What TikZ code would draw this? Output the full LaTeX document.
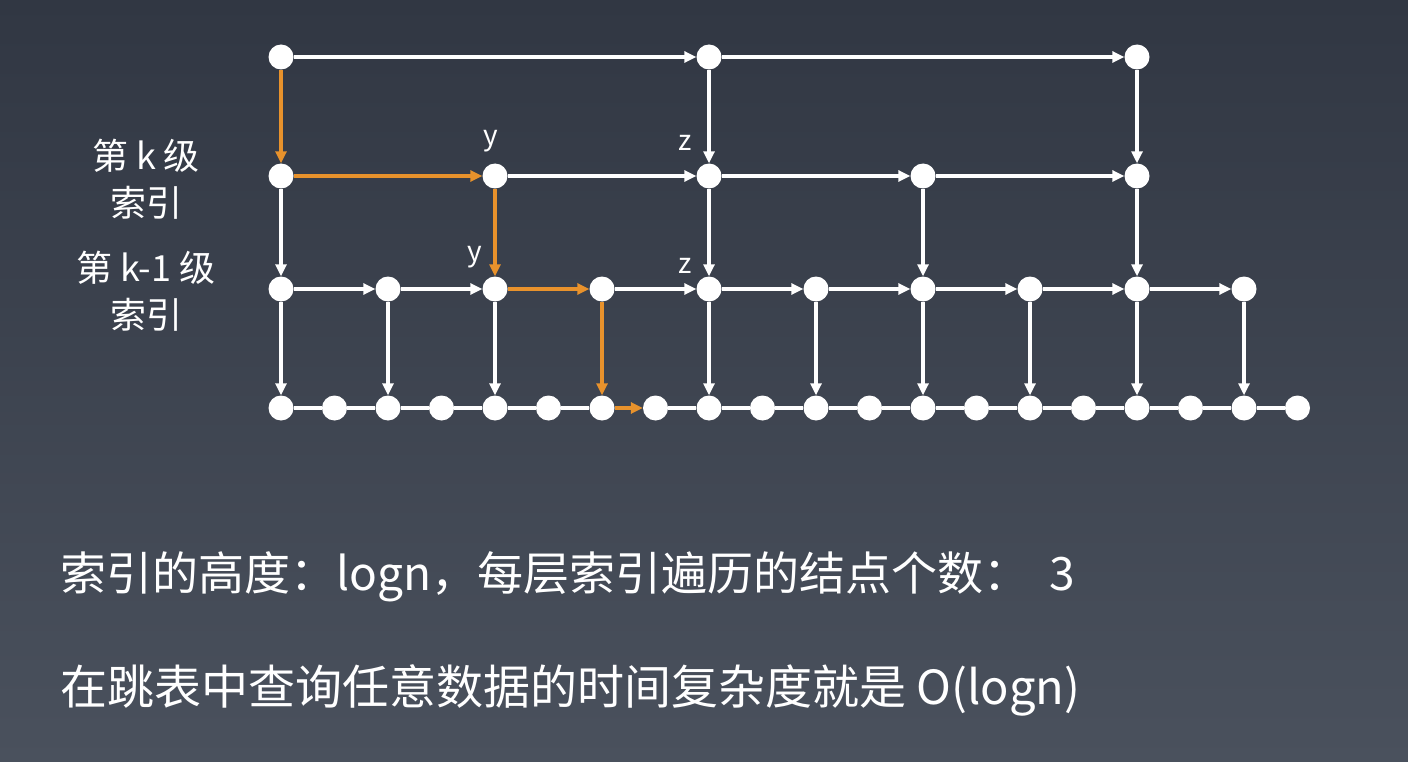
\documentclass[tikz,border=0pt]{standalone}
\usepackage{fontspec}
\setmainfont{Noto Sans CJK SC}
\usetikzlibrary{arrows.meta}
\definecolor{bgtop}{HTML}{313743}
\definecolor{bgbot}{HTML}{4A515D}
\definecolor{hl}{HTML}{E8922C}
\begin{document}
\begin{tikzpicture}[x=1pt,y=-1pt,
  dot/.style={circle,fill=white,minimum size=25pt,inner sep=0pt},
  warr/.style={draw=white,line width=3.5pt,-{Triangle[length=12pt,width=11pt]}},
  oarr/.style={draw=hl,line width=3.5pt,-{Triangle[length=12pt,width=11pt]}},
  wline/.style={draw=white,line width=3.5pt},
  lbl/.style={text=white,font=\fontsize{28}{32}\selectfont,inner sep=0pt},
  side/.style={text=white,align=center,font=\fontsize{36}{47}\selectfont,inner sep=0pt},
  body/.style={text=white,anchor=west,inner sep=0pt}]
\useasboundingbox (0,0) rectangle (1408,762);
\shade[top color=bgtop,bottom color=bgbot] (0,0) rectangle (1408,762);
% nodes
\foreach \i in {0,...,19} \node[dot] (b\i) at ({281+53.5*\i},408) {};
\foreach \i in {0,...,9} \node[dot] (a\i) at ({281+107*\i},289) {};
\foreach \i in {0,...,4} \node[dot] (c\i) at ({281+214*\i},176) {};
\foreach \i in {0,...,2} \node[dot] (t\i) at ({281+428*\i},57) {};
% bottom row
\foreach \i/\j in {0/1,1/2,2/3,3/4,4/5,5/6,7/8,8/9,9/10,10/11,11/12,12/13,13/14,14/15,15/16,16/17,17/18,18/19}
  \draw[wline] (b\i) -- (b\j);
\draw[oarr] (b6) -- (b7);
% level k-1
\foreach \i/\j in {0/1,1/2,3/4,4/5,5/6,6/7,7/8,8/9}
  \draw[warr] (a\i) -- (a\j);
\draw[oarr] (a2) -- (a3);
% level k
\foreach \i/\j in {1/2,2/3,3/4}
  \draw[warr] (c\i) -- (c\j);
\draw[oarr] (c0) -- (c1);
% top
\draw[warr] (t0) -- (t1);
\draw[warr] (t1) -- (t2);
% verticals
\draw[oarr] (t0) -- (c0);
\draw[warr] (t1) -- (c2);
\draw[warr] (t2) -- (c4);
\draw[warr] (c0) -- (a0);
\draw[oarr] (c1) -- (a2);
\draw[warr] (c2) -- (a4);
\draw[warr] (c3) -- (a6);
\draw[warr] (c4) -- (a8);
\foreach \j/\k in {0/0,1/2,2/4,4/8,5/10,6/12,7/14,8/16,9/18}
  \draw[warr] (a\j) -- (b\k);
\draw[oarr] (a3) -- (b6);
% letters
\node[lbl] (y1) at (491,141) {y};
\node[lbl] (z1) at (685,143) {z};
\node[lbl] (y2) at (475,257) {y};
\node[lbl] (z2) at (685,266) {z};
% side labels
\node[side] (lk) at (146,179) {第 k 级\\索引};
\node[side] (lk1) at (146,291) {第 k-1 级\\索引};
% bottom text
\node[body,font=\fontsize{46}{54}\selectfont] (t1line) at (60,577) {索引的高度：logn，每层索引遍历的结点个数：\hspace{20pt}3};
\node[body,font=\fontsize{47}{58}\selectfont] (t2line) at (60,690) {在跳表中查询任意数据的时间复杂度就是 O(logn)};
\end{tikzpicture}
\end{document}
